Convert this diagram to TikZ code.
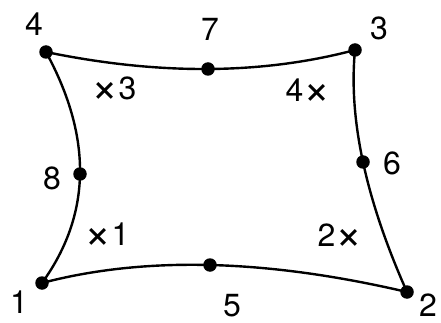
\documentclass[tikz,border=0pt]{standalone}
\usepackage{fontspec}
\setmainfont{TeX Gyre Heros}
\usetikzlibrary{calc}
\newcommand{\bigtimes}{\raisebox{-3pt}{\scalebox{1.45}{×}}}
\begin{document}
\begin{tikzpicture}[x=1pt,y=-1pt,
  dot/.style={circle,fill=black,inner sep=0pt,minimum size=13.5pt},
  lbl/.style={font=\fontsize{32}{35}\selectfont,inner sep=0pt},
  edge/.style={line width=2.4pt}]
\useasboundingbox (0,0) rectangle (441,323);
\node[dot] (n1) at (42,283) {};
\node[dot] (n2) at (407,292) {};
\node[dot] (n3) at (355,50) {};
\node[dot] (n4) at (46,52) {};
\node[dot] (n5) at (210,265) {};
\node[dot] (n6) at (363,162) {};
\node[dot] (n7) at (208,69) {};
\node[dot] (n8) at (80,174) {};
% sides: quadratic curves through the mid-side nodes
\draw[edge] (n4.center) .. controls ($(n7.center)!-1/3!(n3.center)$) and ($(n7.center)!-1/3!(n4.center)$) .. (n3.center);
\draw[edge] (n3.center) .. controls ($(n6.center)!-1/3!(n2.center)$) and ($(n6.center)!-1/3!(n3.center)$) .. (n2.center);
\draw[edge] (n1.center) .. controls ($(n5.center)!-1/3!(n2.center)$) and ($(n5.center)!-1/3!(n1.center)$) .. (n2.center);
\draw[edge] (n4.center) .. controls ($(n8.center)!-1/3!(n1.center)$) and ($(n8.center)!-1/3!(n4.center)$) .. (n1.center);
% labels
\node[lbl] (l1) at (19,302) {1};
\node[lbl] (l2) at (428,305) {2};
\node[lbl] (l3) at (379,28) {3};
\node[lbl] (l4) at (34,24) {4};
\node[lbl] (l5) at (232,306) {5};
\node[lbl] (l6) at (392,163) {6};
\node[lbl] (l7) at (210,29) {7};
\node[lbl] (l8) at (52,178) {8};
\node[lbl] (x1) at (107,236) {\bigtimes1};
\node[lbl] (x2) at (340,237) {2\bigtimes};
\node[lbl] (x3) at (114,90) {\bigtimes3};
\node[lbl] (x4) at (308,92) {4\bigtimes};
\end{tikzpicture}
\end{document}
